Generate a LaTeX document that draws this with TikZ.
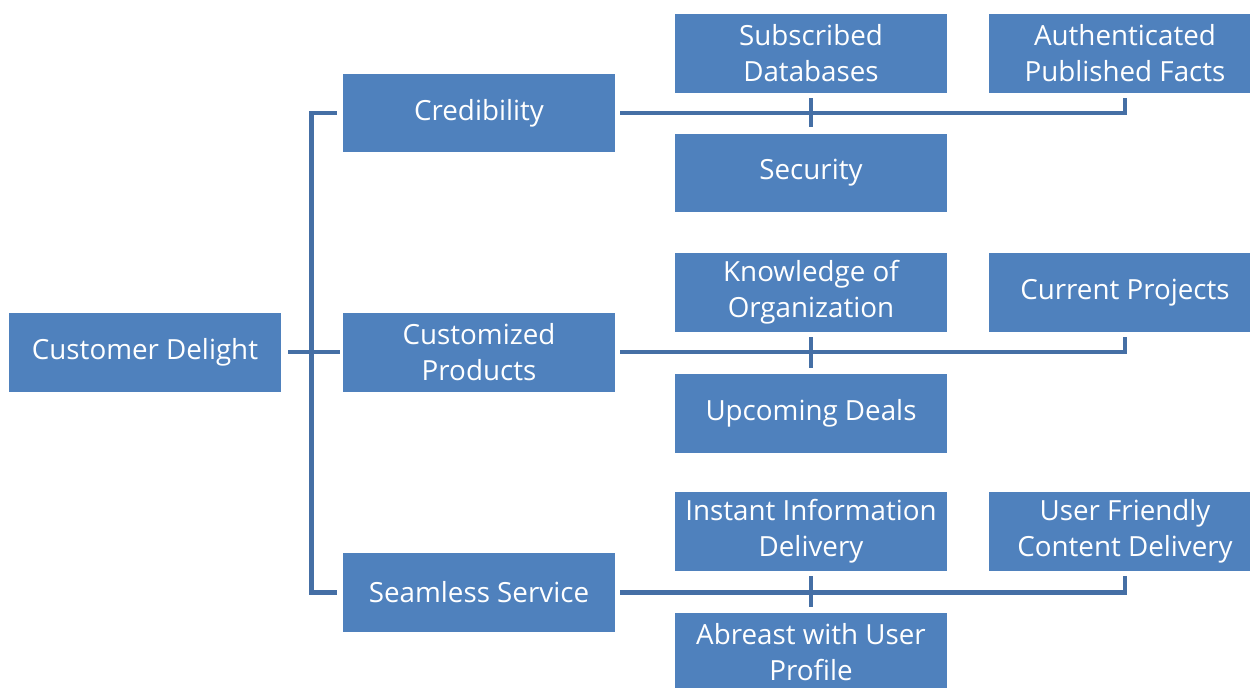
\documentclass[tikz,border=0pt]{standalone}
\usepackage{fontspec}
\setmainfont{Open Sans}
\usetikzlibrary{positioning}
\definecolor{boxblue}{HTML}{4F81BD}
\definecolor{lineblue}{HTML}{456FA5}

\begin{document}
\begin{tikzpicture}[x=0.02cm, y=-0.02cm,
		every node/.style={font=\fontsize{15.8}{20.5}\selectfont, text=white, align=center},
		box/.style={fill=boxblue, minimum width=5.44cm, minimum height=1.58cm, inner sep=0pt},
		link/.style={draw=lineblue, line width=2.5pt}]
		\useasboundingbox (0,0) rectangle (1250,687);
		% left and middle column
		\node[box] (delight) at (145,352) {Customer Delight};
		\node[box] (cred) at (479,113) {Credibility};
		\node[box] (custom) at (479,352) {Customized\\Products};
		\node[box] (seam) at (479,592.5) {Seamless Service};
		% right columns
		\node[box] (subs) at (811,53.5) {Subscribed\\Databases};
		\node[box] (auth) at (1125,53.5) {Authenticated\\Published Facts};
		\node[box] (secu) at (811,173) {Security};
		\node[box] (know) at (811,292.5) {Knowledge of\\Organization};
		\node[box] (proj) at (1125,292.5) {Current Projects};
		\node[box] (deals) at (811,413.5) {Upcoming Deals};
		\node[box] (inst) at (811,531.5) {Instant Information\\Delivery};
		\node[box] (user) at (1125,531.5) {User Friendly\\Content Delivery};
		\node[box] (abre) at (811,652.5) {Abreast with User\\Profile};
		% spine
		\draw[link, shorten <=0.14cm, shorten >=0.06cm] (delight) -- (custom);
		\draw[link] ([xshift=-0.12cm]cred.west) -- ++(-25,0) |- ([xshift=-0.12cm]seam.west);
		% branches
		\draw[link, shorten >=0.1cm] ([xshift=0.1cm]cred.east) -| (auth.south);
		\draw[link, shorten <=0.1cm, shorten >=0.12cm] (subs) -- (secu);
		\draw[link, shorten >=0.1cm] ([xshift=0.1cm]custom.east) -| (proj.south);
		\draw[link, shorten <=0.1cm, shorten >=0.12cm] (know) -- (deals);
		\draw[link, shorten >=0.1cm] ([xshift=0.1cm]seam.east) -| (user.south);
		\draw[link, shorten <=0.1cm, shorten >=0.12cm] (inst) -- (abre);
	\end{tikzpicture}
\end{document}
